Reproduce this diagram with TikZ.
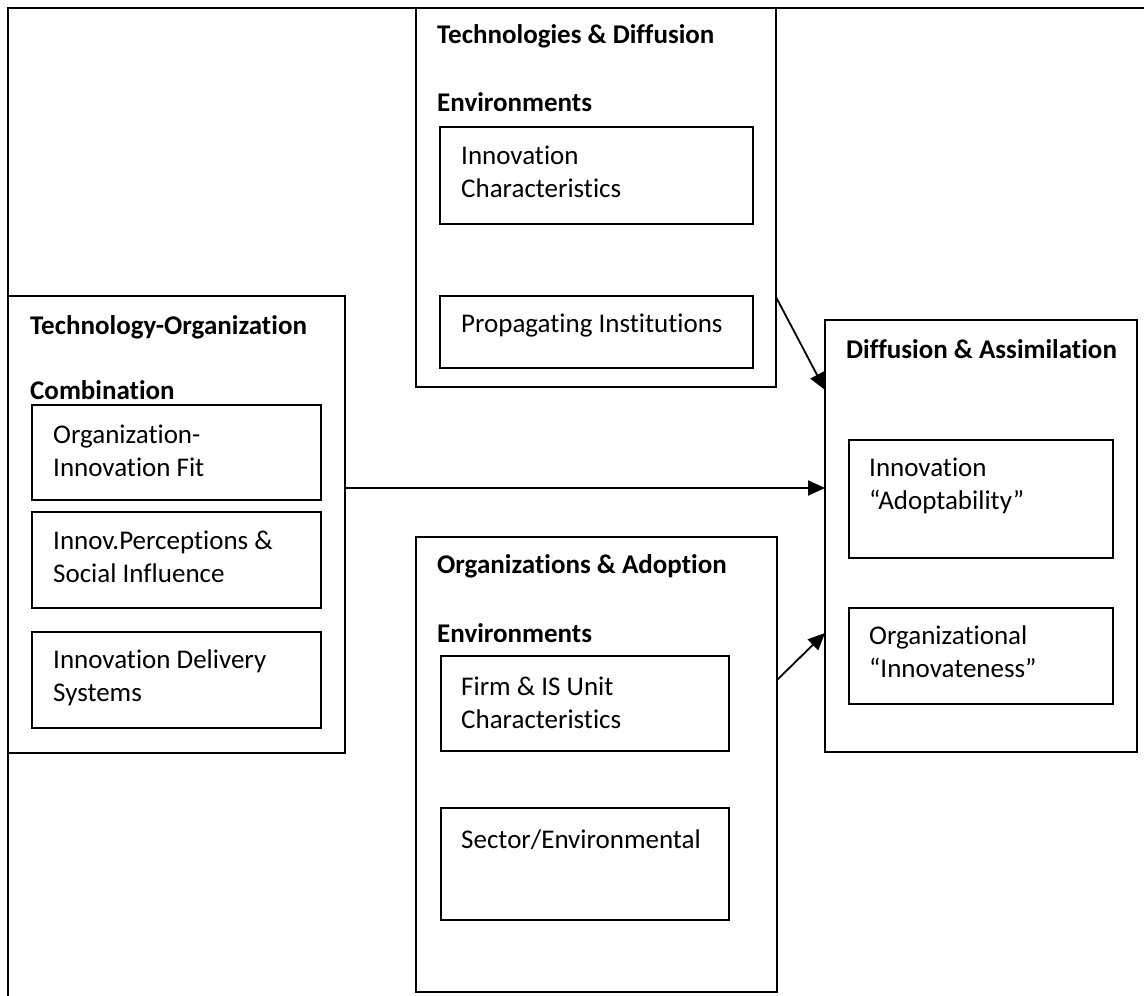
\documentclass[tikz,border=0pt]{standalone}
\usepackage{fontspec}
\setmainfont{Carlito}[Ligatures=NoCommon]
\usetikzlibrary{arrows.meta}
\begin{document}
\begin{tikzpicture}[x=1pt,y=-1pt,
  box/.style={draw, line width=2pt, inner sep=0pt, outer sep=0pt, anchor=north west},
  txt/.style={anchor=base west, inner sep=0pt, align=left, font=\fontsize{27}{33}\selectfont},
  ttl/.style={txt, font=\fontsize{27}{33}\selectfont\bfseries},
  arr/.style={line width=1.8pt, -{Triangle[length=17pt,width=15pt]}}]
\useasboundingbox (0,0) rectangle (1144,996);
% outer frame (left and top edges)
\draw[line width=2.4pt] (8,996) coordinate (fbl) -- (8,8) coordinate (ftl) -- (1144,8) coordinate (ftr);

% Technologies & Diffusion Environments
\node[box, minimum width=360pt, minimum height=379pt] (td) at (416,8) {};
\node[ttl] (tdt1) at (437,43) {Technologies \& Diffusion};
\node[ttl] (tdt2) at (437,111) {Environments};
\node[box, minimum width=313pt, minimum height=97pt] (tdA) at (440,127) {};
\node[txt] (tdAt) at (461,197) {Innovation\\Characteristics};
\node[box, minimum width=313pt, minimum height=72pt] (tdB) at (440,296) {};
\node[txt] (tdBt) at (461,332) {Propagating Institutions};

% Technology-Organization Combination
\node[box, minimum width=337pt, minimum height=457pt] (to) at (8,296) {};
\node[ttl] (tot1) at (30,334) {Technology-Organization};
\node[ttl] (tot2) at (30,399) {Combination};
\node[box, minimum width=289pt, minimum height=95pt] (toA) at (32,405) {};
\node[txt] (toAt) at (53,476) {Organization-\\Innovation Fit};
\node[box, minimum width=289pt, minimum height=96pt] (toB) at (32,512) {};
\node[txt] (toBt) at (53,582) {Innov.Perceptions \&\\Social Influence};
\node[box, minimum width=289pt, minimum height=96pt] (toC) at (32,632) {};
\node[txt] (toCt) at (53,701) {Innovation Delivery\\Systems};

% Organizations & Adoption Environments
\node[box, minimum width=361pt, minimum height=455pt] (oa) at (416,537) {};
\node[ttl] (oat1) at (437,573) {Organizations \& Adoption};
\node[ttl] (oat2) at (437,642) {Environments};
\node[box, minimum width=288pt, minimum height=95pt] (oaA) at (441,656) {};
\node[txt] (oaAt) at (461,728) {Firm \& IS Unit\\Characteristics};
\node[box, minimum width=288pt, minimum height=112pt] (oaB) at (441,808) {};
\node[txt] (oaBt) at (461,848) {Sector/Environmental};

% Diffusion & Assimilation
\node[box, minimum width=312pt, minimum height=432pt] (da) at (825,320) {};
\node[ttl] (dat) at (846,358) {Diffusion \& Assimilation};
\node[box, minimum width=264pt, minimum height=118pt] (daA) at (849,440) {};
\node[txt] (daAt) at (869,509) {Innovation\\“Adoptability”};
\node[box, minimum width=264pt, minimum height=96pt] (daB) at (849,608) {};
\node[txt] (daBt) at (869,677) {Organizational\\“Innovateness”};

% influences
\draw[arr] (td.east |- 0,297) -- (da.west |- 0,390);
\draw[arr] (to.east |- 0,488) -- (da.west |- 0,488);
\draw[arr] (oa.east |- 0,680) -- (da.west |- 0,633);
\end{tikzpicture}
\end{document}
